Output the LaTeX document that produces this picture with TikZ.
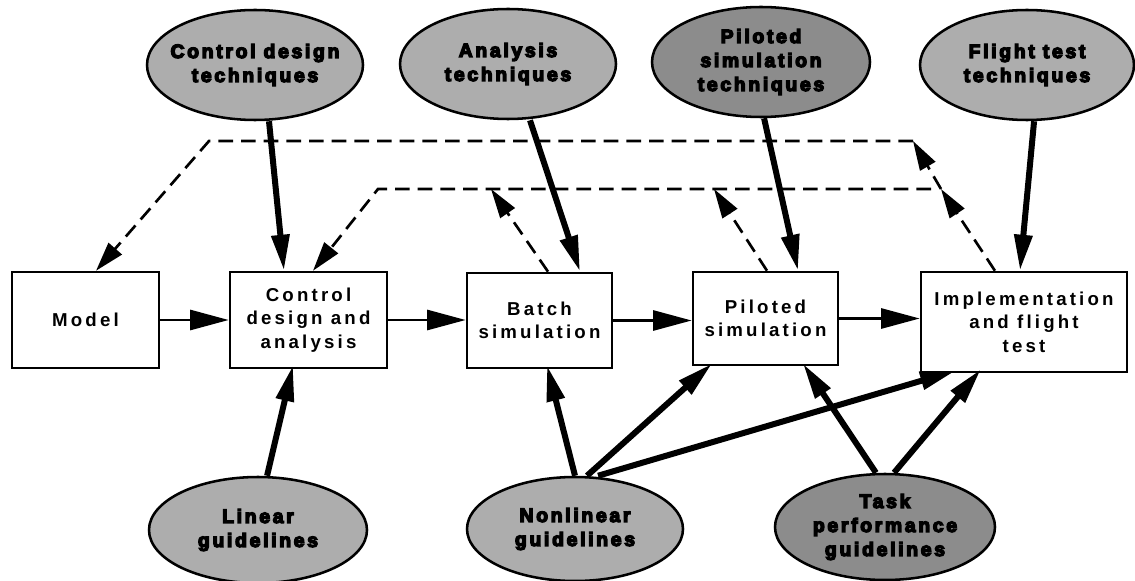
\documentclass[tikz,border=0pt]{standalone}
\usepackage{fontspec}
\setmainfont{Liberation Sans}
\newfontfamily\boxfont[LetterSpace=17]{Liberation Sans Bold}
\newfontfamily\ovalfont[LetterSpace=14,FakeBold=7]{Liberation Sans Bold}
\usetikzlibrary{shapes.geometric,arrows.meta,calc}

\begin{document}
\begin{tikzpicture}[x=0.75pt,y=0.75pt,yscale=-1,xscale=1,
  stagebox/.style={draw,line width=1.9pt,fill=white,align=center,inner sep=0pt,
    font=\boxfont\fontsize{14}{17.6}\selectfont},
  oval/.style={ellipse,draw,line width=1.9pt,fill=black!32,align=center,
    inner xsep=-30pt,inner ysep=-20pt,minimum width=162pt,minimum height=82.5pt,
    font=\ovalfont\fontsize{14.5}{18}\selectfont},
  darkoval/.style={oval,fill=black!45},
  feed/.style={line width=4.5pt,-{Triangle[length=27pt,width=13pt]}},
  flow/.style={line width=2.2pt,-{Triangle[length=29pt,width=15pt]}},
  back/.style={line width=2pt,dash pattern=on 11pt off 6pt,-{Triangle[length=22pt,width=13pt]}}]
\useasboundingbox (0,0) rectangle (1135,581);

%Shape: Rectangle [id:stages]
\node[stagebox,minimum width=110.3pt,minimum height=72pt] (model) at (85.5,320) {Model};
\node[stagebox,minimum width=117.8pt,minimum height=72pt] (ctrl) at (308.5,320) {Control\\design and\\analysis};
\node[stagebox,minimum width=108.8pt,minimum height=71.3pt] (batch) at (539.5,320.5) {Batch\\simulation};
\node[stagebox,minimum width=108.8pt,minimum height=69.8pt] (piloted) at (765.5,318.5) {Piloted\\simulation};
\node[stagebox,minimum width=154.5pt,minimum height=75pt] (impl) at (1024,322) {Implementation\\and flight\\test};

%Shape: Ellipse [id:techniques]
\node[oval] (cdt) at (255,65) {Control design\\techniques};
\node[oval] (at) at (508,64) {Analysis\\techniques};
\node[darkoval,minimum width=163.5pt] (pst) at (761,62) {Piloted\\simulation\\techniques};
\node[oval,minimum width=160.5pt] (ftt) at (1027,65) {Flight test\\techniques};

%Shape: Ellipse [id:guidelines]
\node[oval,minimum width=163.5pt,minimum height=79.5pt] (lg) at (258,530) {Linear\\guidelines};
\node[oval,minimum height=78pt] (ng) at (575,529) {Nonlinear\\guidelines};
\node[darkoval,minimum width=165pt,minimum height=79.5pt] (tpg) at (885,527) {Task\\performance\\guidelines};

% Main flow
\draw[flow] (model.east) -- (model.east -| ctrl.west);
\draw[flow] (ctrl.east) -- (ctrl.east -| batch.west);
\draw[flow] (batch.east) -- (batch.east -| piloted.west);
\draw[flow] (piloted.east) -- (piloted.east -| impl.west);

% Techniques in
\draw[feed] ([xshift=10.5pt]cdt.south) -- ([xshift=-18.4pt]ctrl.north);
\draw[feed] ([xshift=16.5pt]at.south) -- ([xshift=30.4pt]batch.north);
\draw[feed] ([xshift=2.3pt]pst.south) -- ([xshift=24.4pt]piloted.north);
\draw[feed] ([xshift=5.3pt]ftt.south) -- ([xshift=-3pt]impl.north);

% Guidelines in
\draw[feed] ([xshift=6.8pt]lg.north) -- ([xshift=-11.6pt,yshift=-3pt]ctrl.south);
\draw[feed] (ng.north) -- ([xshift=5.6pt,yshift=-3pt]batch.south);
\draw[feed] ([xshift=9pt]ng.north) -- ([xshift=-40.1pt,yshift=-2pt]piloted.south);
\draw[feed] ([xshift=17.3pt]ng.north) -- ([xshift=-51pt,yshift=-2pt]impl.south);
\draw[feed] ([xshift=-6.8pt]tpg.north) -- ([xshift=28.1pt,yshift=-2pt]piloted.south);
\draw[feed] ([xshift=6.8pt]tpg.north) -- ([xshift=-32.3pt,yshift=-3pt]impl.south);

% Feedback loops
\coordinate (topL) at (209,141);
\coordinate (topR) at (913,141);
\coordinate (midL) at (378,189);
\coordinate (midR) at (941,189);
\coordinate (batchUp) at (491,189);
\coordinate (pilotUp) at (714,189);
\draw[back] ([xshift=-21.8pt]impl.north) -- (midR);
\draw[back] (midR) -- (topR);
\draw[back] (topR) -- (topL) -- ([xshift=7.9pt]model.north);
\draw[back] (midR) ++(-10,0) -- (midL) -- ([xshift=3.4pt]ctrl.north);
\draw[back] ([xshift=6.4pt]batch.north) -- (batchUp);
\draw[back] ([xshift=1.1pt]piloted.north) -- (pilotUp);

\end{tikzpicture}
\end{document}
